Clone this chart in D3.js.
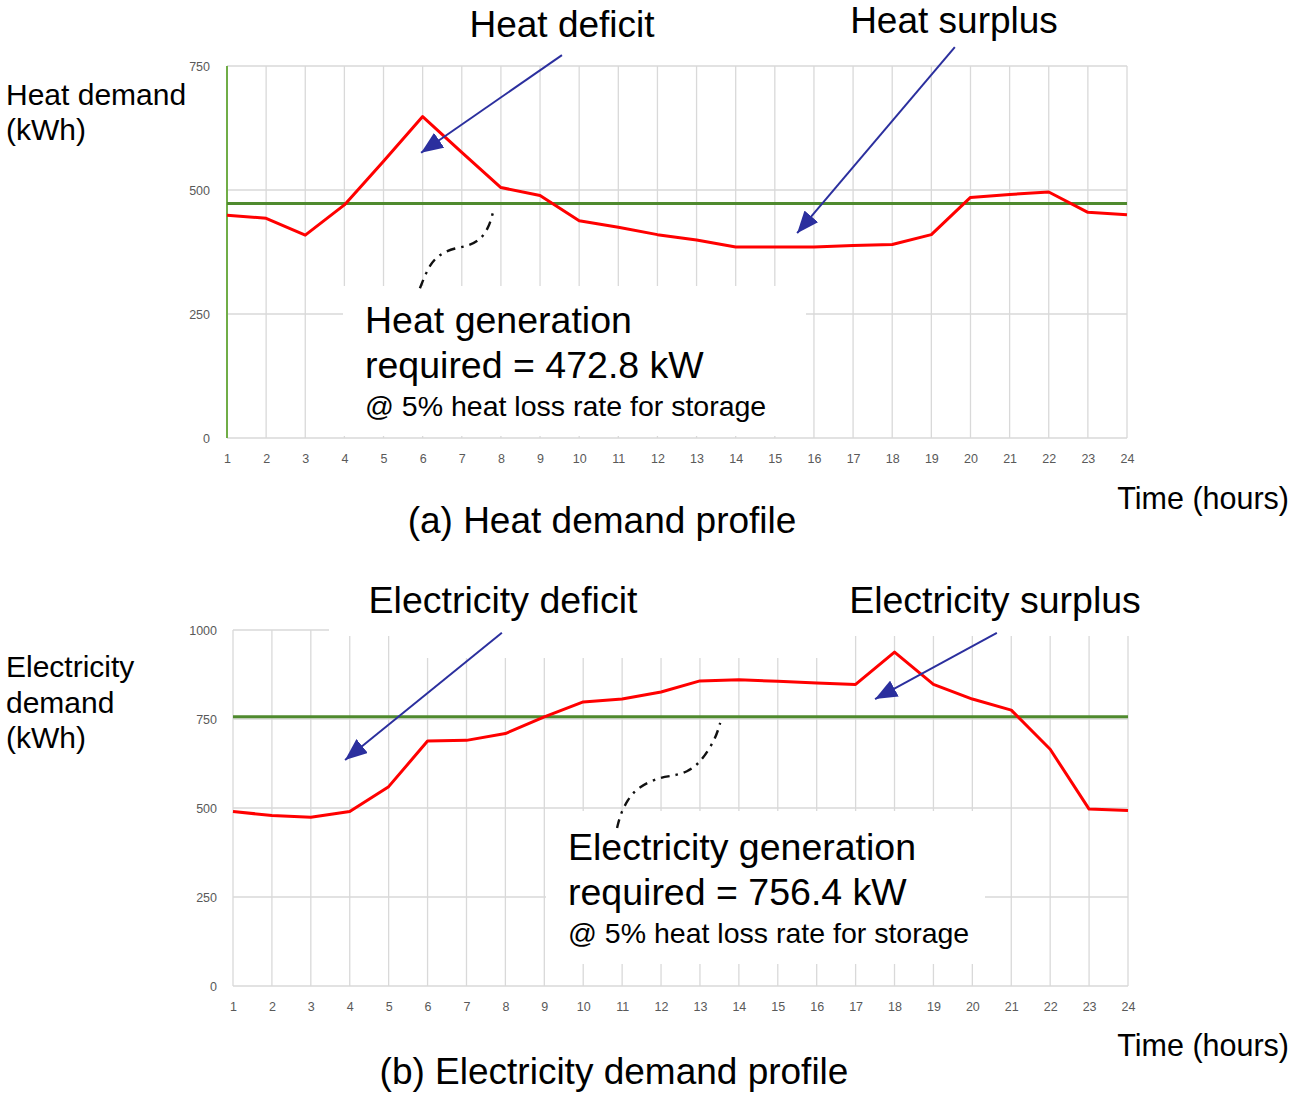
<!DOCTYPE html>
<html>
<head>
<meta charset="utf-8">
<script src="https://cdn.jsdelivr.net/npm/d3@7"></script>
<style>
  body { margin: 0; background: #fff; }
  svg { display: block; font-family: "Liberation Sans", Arial, sans-serif; }
</style>
</head>
<body>
<svg id="fig" width="1291" height="1096"></svg>
<script>
// hours on the x axis
var hours = [1, 2, 3, 4, 5, 6, 7, 8, 9, 10, 11, 12, 13, 14, 15, 16, 17, 18, 19, 20, 21, 22, 23, 24];

// (a) heat demand per hour, kWh
var heatDemand = [449, 443, 409, 470, 558, 648, 576, 505, 489, 438, 425, 410,
                  399, 385, 385, 385, 388, 390, 410, 485, 491, 496, 455, 450];
var heatGeneration = 472.8;
var heatTicks = [0, 250, 500, 750];

// (b) electricity demand per hour, kWh
var elecDemand = [490, 479, 474, 490, 560, 688, 690, 709, 756, 798, 806, 826,
                  857, 860, 856, 851, 847, 938, 847, 806, 775, 665, 497, 493];
var elecGeneration = 756.4;
var elecTicks = [0, 250, 500, 750, 1000];

// annotation geometry in data units [hour, value]
var heatDeficitArrow = [[9.56, 772], [5.96, 575]];
var heatSurplusArrow = [[19.6, 788], [15.57, 413]];
var heatLeader = [[5.93, 302], [6.19, 353], [6.49, 373], [6.83, 383], [7.16, 387], [7.47, 399], [7.70, 425], [7.82, 462]];
var elecDeficitArrow = [[7.91, 992], [3.88, 635]];
var elecSurplusArrow = [[20.63, 992], [17.5, 806]];
var elecLeader = [[10.87, 444], [10.95, 480], [11.13, 522], [11.41, 559], [11.97, 587], [12.31, 590], [12.67, 601], [13.0, 626], [13.39, 691], [13.52, 739]];

var svg = d3.select("#fig");

var GRID = "#d9d9d9", RED = "#ff0000", GREEN = "#4f8a2e", BLUE = "#2b2f9e", TICK = "#595959";

// marker for the blue arrows
svg.append("defs").append("marker")
    .attr("id", "head")
    .attr("markerUnits", "userSpaceOnUse")
    .attr("orient", "auto")
    .attr("viewBox", "0 0 22 18")
    .attr("refX", 22).attr("refY", 9)
    .attr("markerWidth", 22).attr("markerHeight", 18)
  .append("path")
    .attr("d", "M0,0 L22,9 L0,18 Z")
    .attr("fill", BLUE);

function drawPanel(o) {
    var g = svg.append("g");
    var x = d3.scaleLinear().domain([1, 24]).range([o.x0, o.x1]);
    var y = d3.scaleLinear().domain([0, o.max]).range([o.y0, o.y1]);

    // gridlines
    g.selectAll(".vg").data(hours).enter().append("line")
        .attr("x1", function(d) { return x(d); }).attr("x2", function(d) { return x(d); })
        .attr("y1", y(0)).attr("y2", y(o.max))
        .attr("stroke", GRID).attr("stroke-width", 1.3);
    g.selectAll(".hg").data(o.ticks).enter().append("line")
        .attr("x1", x(1)).attr("x2", x(24))
        .attr("y1", function(d) { return y(d); }).attr("y2", function(d) { return y(d); })
        .attr("stroke", GRID).attr("stroke-width", 1.3);

    // white text boxes that hide part of the grid
    o.masks.forEach(function(m) {
        g.append("rect").attr("x", m[0]).attr("y", m[1]).attr("width", m[2]).attr("height", m[3]).attr("fill", "#fff");
    });

    if (o.greenAxis) {
        g.append("line").attr("x1", x(1)).attr("x2", x(1)).attr("y1", y(0)).attr("y2", y(o.max))
            .attr("stroke", "#70ad47").attr("stroke-width", 2);
    }

    // tick labels
    var xa = g.append("g").attr("transform", "translate(0," + (y(0) + 13) + ")")
        .call(d3.axisBottom(x).tickValues(hours).tickSize(0).tickFormat(d3.format("d")));
    xa.select(".domain").remove();
    xa.selectAll("text").attr("fill", TICK).attr("font-size", 12.5).attr("font-family", "Liberation Sans, Arial");

    var ya = g.append("g").attr("transform", "translate(" + (o.x0 - o.ylabGap) + ",0)")
        .call(d3.axisLeft(y).tickValues(o.ticks).tickSize(0).tickFormat(d3.format("d")));
    ya.select(".domain").remove();
    ya.selectAll("text").attr("fill", TICK).attr("font-size", 12.5).attr("font-family", "Liberation Sans, Arial");

    // generation level and demand
    g.append("line").attr("x1", x(1)).attr("x2", x(24))
        .attr("y1", y(o.gen)).attr("y2", y(o.gen))
        .attr("stroke", GREEN).attr("stroke-width", 3);

    var line = d3.line().x(function(d, i) { return x(hours[i]); }).y(function(d) { return y(d); });
    g.append("path").datum(o.demand).attr("d", line)
        .attr("fill", "none").attr("stroke", RED).attr("stroke-width", 3).attr("stroke-linejoin", "round");

    // dash-dot leader
    var lead = d3.line().x(function(d) { return x(d[0]); }).y(function(d) { return y(d[1]); }).curve(d3.curveBasis);
    g.append("path").datum(o.leader).attr("d", lead)
        .attr("fill", "none").attr("stroke", "#111").attr("stroke-width", 2.4)
        .attr("stroke-dasharray", "9 6 2.5 6");

    // blue arrows
    o.arrows.forEach(function(a) {
        g.append("line")
            .attr("x1", x(a[0][0])).attr("y1", y(a[0][1]))
            .attr("x2", x(a[1][0])).attr("y2", y(a[1][1]))
            .attr("stroke", BLUE).attr("stroke-width", 2)
            .attr("marker-end", "url(#head)");
    });

    return g;
}

drawPanel({
    x0: 227, x1: 1127, y0: 438, y1: 66, max: 750, ylabGap: 14,
    ticks: heatTicks, demand: heatDemand, gen: heatGeneration,
    leader: heatLeader, arrows: [heatDeficitArrow, heatSurplusArrow],
    masks: [[343, 286, 463, 150]], greenAxis: true
});

drawPanel({
    x0: 233, x1: 1128, y0: 986, y1: 630, max: 1000, ylabGap: 13,
    ticks: elecTicks, demand: elecDemand, gen: elecGeneration,
    leader: elecLeader, arrows: [elecDeficitArrow, elecSurplusArrow],
    masks: [[329, 600, 962, 36], [405, 600, 440, 58], [546, 811, 439, 153]], greenAxis: false
});

// texts
function txt(s, xp, yp, size, anchor) {
    svg.append("text").attr("x", xp).attr("y", yp)
        .attr("font-size", size).attr("fill", "#000")
        .attr("text-anchor", anchor || "start").text(s);
}

txt("Heat deficit", 562, 37, 37, "middle");
txt("Heat surplus", 954, 33, 37, "middle");
txt("Heat demand", 6, 105, 30);
txt("(kWh)", 6, 140, 30);
txt("Heat generation", 365, 333, 37.5);
txt("required = 472.8 kW", 365, 378, 37.5);
txt("@ 5% heat loss rate for storage", 365, 416, 28.5);
txt("Time (hours)", 1289, 509, 30.5, "end");
txt("(a) Heat demand profile", 602, 533, 37, "middle");

txt("Electricity deficit", 503, 613, 37.5, "middle");
txt("Electricity surplus", 995, 613, 37.5, "middle");
txt("Electricity", 6, 677, 30);
txt("demand", 6, 713, 30);
txt("(kWh)", 6, 748, 30);
txt("Electricity generation", 568, 860, 37.5);
txt("required = 756.4 kW", 568, 905, 37.5);
txt("@ 5% heat loss rate for storage", 568, 943, 28.5);
txt("Time (hours)", 1289, 1056, 30.5, "end");
txt("(b) Electricity demand profile", 614, 1084, 37, "middle");
</script>
</body>
</html>
